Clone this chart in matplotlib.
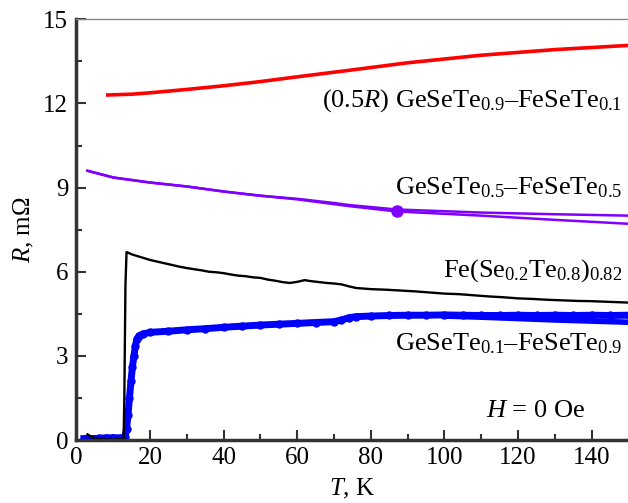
import matplotlib
matplotlib.use("Agg")
import matplotlib.pyplot as plt
from matplotlib.ticker import MultipleLocator

plt.rcParams['font.family'] = ['Liberation Serif', 'DejaVu Serif']
plt.rcParams['mathtext.fontset'] = 'custom'
plt.rcParams['mathtext.rm'] = 'Liberation Serif'
plt.rcParams['mathtext.it'] = 'Liberation Serif:italic'

# Red: (0.5R) GeSeTe0.9-FeSeTe0.1
red_T = [8, 15, 20, 30, 40, 50, 60, 74, 90, 110, 130, 150]
red_R = [12.3, 12.33, 12.38, 12.5, 12.63, 12.78, 12.95, 13.18, 13.45, 13.72, 13.92, 14.07]

# Purple: GeSeTe0.5-FeSeTe0.5 (two branches)
pur_T = [3, 10, 20, 30, 40, 50, 60, 70, 74, 87, 110, 130, 150]
pur_up = [9.6, 9.36, 9.18, 9.04, 8.86, 8.71, 8.6, 8.45, 8.38, 8.22, 8.11, 8.05, 8.0]
pur_lo = [9.6, 9.36, 9.18, 9.04, 8.86, 8.71, 8.58, 8.41, 8.34, 8.15, 8.0, 7.85, 7.71]
pur_dot_T = [87]
pur_dot_R = [8.18]

# Black: Fe(Se0.2Te0.8)0.82
blk_T = [3, 4, 5, 6, 8, 10, 12, 12.8, 13.0, 13.3, 13.6, 14, 15, 16, 18, 20, 22, 24, 26, 28,
         30, 32, 34, 36, 38, 40, 42, 44, 46, 48, 50, 52, 54, 56, 58, 60, 62, 64, 66, 68,
         70, 72, 74, 76, 78, 80, 84, 88, 92, 96, 100, 104, 108, 112, 116, 120, 124, 128,
         132, 136, 140, 144, 148, 150]
blk_R = [0.2, 0.12, 0.05, 0.03, 0.02, 0.02, 0.03, 0.05, 1.5, 5.5, 6.7, 6.68, 6.62, 6.58, 6.5,
         6.42, 6.36, 6.3, 6.24, 6.18, 6.13, 6.09, 6.05, 6.0, 5.98, 5.95, 5.9, 5.86, 5.84,
         5.8, 5.78, 5.72, 5.68, 5.63, 5.6, 5.64, 5.7, 5.66, 5.63, 5.6, 5.58, 5.55, 5.48,
         5.42, 5.4, 5.38, 5.36, 5.33, 5.3, 5.26, 5.22, 5.2, 5.16, 5.12, 5.09, 5.05, 5.03,
         5.0, 4.98, 4.96, 4.95, 4.93, 4.91, 4.9]

# Blue: GeSeTe0.1-FeSeTe0.9
blu_T = [2, 4, 6, 8, 10, 12, 12.8, 13.2, 13.6, 14.0, 14.4, 14.8, 15.2, 15.6, 16.0, 16.4,
         17, 18, 20, 25, 30, 35, 40, 45, 50, 55, 60, 65, 70, 72, 74, 76, 80, 85, 90, 95, 100,
         105, 110, 115, 120, 125, 130, 135, 140, 145, 150]
blu_R = [0.05, 0.05, 0.06, 0.08, 0.08, 0.08, 0.1, 0.1, 0.4, 0.9, 1.5, 2.1, 2.6, 3.0, 3.35, 3.6,
         3.72, 3.78, 3.84, 3.88, 3.93, 3.97, 4.02, 4.06, 4.1, 4.13, 4.16, 4.19, 4.22, 4.28,
         4.36, 4.4, 4.42, 4.44, 4.45, 4.45, 4.46, 4.45, 4.44, 4.44, 4.45, 4.44, 4.45, 4.44,
         4.45, 4.44, 4.45]
blu_lo_T = [100, 110, 120, 130, 140, 150]
blu_lo_R = [4.42, 4.38, 4.33, 4.28, 4.24, 4.2]

fig = plt.figure(figsize=(6.28, 5.03), dpi=100)
ax = fig.add_axes([0.1218, 0.1252, 0.8790, 0.8364])

ax.plot(red_T, red_R, color='#ff0000', lw=2.6, solid_capstyle='butt')
ax.plot(pur_T, pur_up, color='#8000ff', lw=1.8)
ax.plot(pur_T, pur_lo, color='#8000ff', lw=1.8)
ax.plot(pur_dot_T, pur_dot_R, 'o', color='#8000ff', ms=8)
ax.plot(blu_T, blu_R, color='#0000ff', lw=5, marker='o', ms=5)
ax.plot(blu_lo_T, blu_lo_R, color='#0000ff', lw=4)
ax.plot(blk_T, blk_R, color='black', lw=1.7)

ax.set_xlim(0, 150)
ax.set_ylim(0, 15)
ax.xaxis.set_major_locator(MultipleLocator(20))
ax.xaxis.set_minor_locator(MultipleLocator(10))
ax.yaxis.set_major_locator(MultipleLocator(3))
ax.yaxis.set_minor_locator(MultipleLocator(1.5))
ax.tick_params(which='both', direction='in', top=False, right=False, labelsize=18,
               width=1.5, color='#333333')
ax.tick_params(which='major', length=7)
ax.tick_params(which='minor', length=4)
ax.tick_params(axis='x', pad=5)
ax.tick_params(axis='y', pad=6)
for s in ['left', 'bottom']:
    ax.spines[s].set_linewidth(2.5)
    ax.spines[s].set_color('#333333')
ax.spines['top'].set_linewidth(1.0)
ax.spines['top'].set_color('#888888')
ax.spines['right'].set_visible(False)

ax.set_xlabel('$T$, K', fontsize=18, labelpad=6)
ax.set_ylabel('$R$, m\u03a9', fontsize=18, labelpad=5)

fs = 19
ax.text(148.2, 12.1, '(0.5$R$) GeSeTe$_{0.9}$–FeSeTe$_{0.1}$', ha='right', va='center', fontsize=fs)
ax.text(148.2, 9.0, 'GeSeTe$_{0.5}$–FeSeTe$_{0.5}$', ha='right', va='center', fontsize=fs)
ax.text(148.2, 6.05, 'Fe(Se$_{0.2}$Te$_{0.8}$)$_{0.82}$', ha='right', va='center', fontsize=fs)
ax.text(148.2, 3.45, 'GeSeTe$_{0.1}$–FeSeTe$_{0.9}$', ha='right', va='center', fontsize=fs)
ax.text(111.3, 1.03, '$H$ = 0 Oe', ha='left', va='center', fontsize=fs)

fig.savefig('out.png', dpi=100)
